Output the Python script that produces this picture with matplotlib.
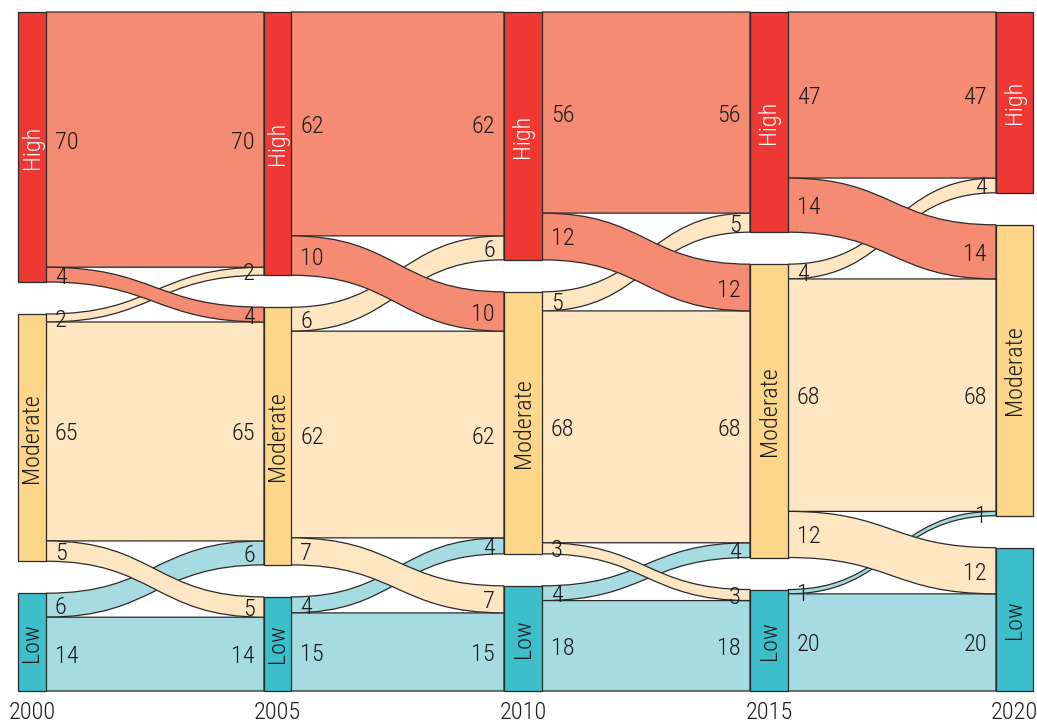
import numpy as np
import matplotlib.pyplot as plt
from matplotlib.path import Path
from matplotlib.patches import PathPatch, Rectangle

plt.rcParams['font.family'] = ['Roboto Condensed', 'Archivo Narrow', 'DejaVu Sans']
plt.rcParams['font.weight'] = 300

years = ['2000', '2005', '2010', '2015', '2020']
levels = ['High', 'Moderate', 'Low']

# labelled numbers, [source level][target level] for each 5-year step
counts_00_05 = [[70, 4, 0], [2, 65, 5], [0, 6, 14]]
counts_05_10 = [[62, 10, 0], [6, 62, 7], [0, 4, 15]]
counts_10_15 = [[56, 12, 0], [5, 68, 3], [0, 4, 18]]
counts_15_20 = [[47, 14, 0], [4, 68, 12], [0, 1, 20]]

# band thickness as drawn (share of column, %)
share_00_05 = [[41.5, 2.4, 0], [1.3, 35.6, 3.3], [0, 3.9, 12.0]]
share_05_10 = [[36.4, 6.4, 0], [3.9, 33.6, 4.4], [0, 2.6, 12.7]]
share_10_15 = [[32.7, 7.6, 0], [3.1, 37.7, 1.8], [0, 2.4, 14.7]]
share_15_20 = [[27.0, 8.8, 0], [2.4, 37.8, 7.5], [0, 0.7, 15.8]]

counts = [counts_00_05, counts_05_10, counts_10_15, counts_15_20]
shares = [share_00_05, share_05_10, share_10_15, share_15_20]

node_fill = ['#EE3833', '#FED68A', '#3CBECB']
flow_fill = ['#F48B72', '#FFE6C3', '#A6DBE1']
name_color = ['white', '#1a1a1a', '#1a1a1a']
edge = '#2a2a2a'

node_left = [18, 264, 504, 750, 996]
node_width = [28, 27, 38, 38, 37]
top, gap, px = 12, 32, 6.15

fig = plt.figure(figsize=(10.37, 7.22), dpi=100)
ax = fig.add_axes([0, 0, 1, 1])
ax.set_xlim(0, 1037)
ax.set_ylim(722, 0)
ax.axis('off')

# node sizes and positions for every column
sizes = [np.array(s).sum(axis=1) for s in shares] + [np.array(shares[-1]).sum(axis=0)]
node_top = []
for sz in sizes:
    node_top.append(top + np.concatenate([[0], np.cumsum(sz)[:-1]]) * px + np.arange(3) * gap)

# flows
for p in range(4):
    x0 = node_left[p] + node_width[p]
    x1 = node_left[p + 1]
    xm = (x0 + x1) / 2
    src = list(node_top[p])
    dst = list(node_top[p + 1])
    bands = []
    for s in range(3):
        for t in range(3):
            h = shares[p][s][t] * px
            if h == 0:
                continue
            bands.append((s, t, src[s], dst[t], h))
            src[s] += h
            dst[t] += h
    for s, t, y0, y1, h in bands:
        verts = [(x0, y0), (xm, y0), (xm, y1), (x1, y1),
                 (x1, y1 + h), (xm, y1 + h), (xm, y0 + h), (x0, y0 + h), (x0, y0)]
        codes = [Path.MOVETO, Path.CURVE4, Path.CURVE4, Path.CURVE4,
                 Path.LINETO, Path.CURVE4, Path.CURVE4, Path.CURVE4, Path.CLOSEPOLY]
        ax.add_patch(PathPatch(Path(verts, codes), facecolor=flow_fill[s],
                               edgecolor=edge, lw=0.9, zorder=3 - s))
        lab = str(counts[p][s][t])
        ax.text(x0 + 9, y0 + h / 2, lab, ha='left', va='center_baseline',
                fontsize=17.5, color='#1a1a1a', zorder=10)
        ax.text(x1 - 9, y1 + h / 2, lab, ha='right', va='center_baseline',
                fontsize=17.5, color='#1a1a1a', zorder=10)

# nodes
for c in range(5):
    for k in range(3):
        h = sizes[c][k] * px
        ax.add_patch(Rectangle((node_left[c], node_top[c][k]), node_width[c], h,
                               facecolor=node_fill[k], edgecolor=edge, lw=0.9, zorder=5))
        ax.text(node_left[c] + node_width[c] / 2, node_top[c][k] + h / 2, levels[k],
                rotation=90, ha='center', va='center', fontsize=17.5,
                color=name_color[k], zorder=6)
    ax.text(node_left[c] + node_width[c] / 2, 710, years[c], ha='center', va='center_baseline',
            fontsize=17.5, color='#1a1a1a')

plt.savefig('out.png', dpi=100)
